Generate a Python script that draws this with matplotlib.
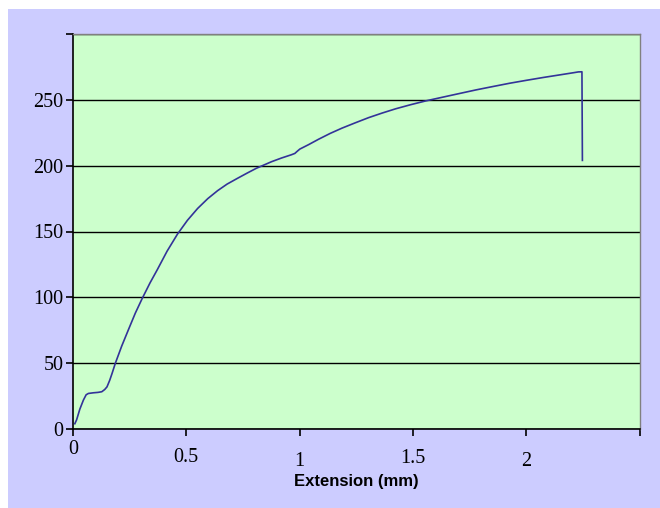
import matplotlib
matplotlib.use("Agg")
import matplotlib.pyplot as plt
from matplotlib.patches import Rectangle

# Data
extension_mm = [0.008, 0.016, 0.03, 0.046, 0.058, 0.068, 0.09, 0.11, 0.127, 0.14, 0.15,
                0.162, 0.172, 0.187, 0.215, 0.246, 0.275, 0.305, 0.34, 0.372, 0.415,
                0.461, 0.505, 0.55, 0.595, 0.638, 0.68, 0.727, 0.77, 0.809, 0.876,
                0.92, 0.964, 0.979, 0.99, 1.001, 1.04, 1.083, 1.135, 1.187, 1.245,
                1.305, 1.365, 1.424, 1.49, 1.557, 1.631, 1.676, 1.78, 1.85, 1.927,
                2.0, 2.076, 2.15, 2.209, 2.23, 2.246, 2.248]
load = [4, 7, 15, 22, 26, 27, 27.5, 27.8, 28.3, 30, 32,
        37, 42, 50, 63, 76, 88, 99, 111, 121, 135,
        148, 158.5, 167.5, 175, 181, 186, 190.5, 194.5, 198, 203,
        205.8, 208.3, 209.3, 211, 212.6, 216, 220, 224.5, 228.5, 232.5,
        236.5, 240, 243.2, 246.3, 249.2, 252, 253.7, 257.6, 260, 262.6,
        264.8, 267, 269, 270.6, 271.2, 271.3, 204]

x_ticks = [0, 0.5, 1, 1.5, 2, 2.5]
x_tick_labels = ["0", "0.5", "1", "1.5", "2", ""]
y_ticks = [0, 50, 100, 150, 200, 250, 300]
y_tick_labels = ["0", "50", "100", "150", "200", "250", ""]
x_label = "Extension (mm)"

fig = plt.figure(figsize=(6.6, 5.08), dpi=100, facecolor="white")
bg = Rectangle((8 / 660, 0), 1 - 8 / 660, (508 - 9) / 508,
               transform=fig.transFigure, facecolor="#ccccff",
               edgecolor="none", zorder=-10)
fig.add_artist(bg)

ax = fig.add_axes([73 / 660, 1 - 429 / 508, (639.5 - 73) / 660, (429 - 34) / 508])
ax.set_zorder(1)
ax.set_facecolor("#ccffcc")

ax.plot(extension_mm, load, color="#333399", linewidth=1.2, zorder=3,
        solid_joinstyle="round")

ax.set_xlim(0, 2.5)
ax.set_ylim(0, 300)
ax.set_xticks(x_ticks)
ax.set_xticklabels(x_tick_labels, fontfamily="Liberation Serif", fontsize=14.5)
ax.set_yticks(y_ticks)
ax.set_yticklabels(y_tick_labels, fontfamily="Liberation Serif", fontsize=14.5)

ax.yaxis.grid(True, color="black", linewidth=1.0)
ax.set_axisbelow(True)

for s in ["left", "bottom"]:
    ax.spines[s].set_color("black")
    ax.spines[s].set_linewidth(1.2)
for s in ["top", "right"]:
    ax.spines[s].set_color("#808080")
    ax.spines[s].set_linewidth(1.0)

ax.tick_params(axis="both", direction="out", length=5, width=1.2, color="black")
ax.tick_params(axis="y", pad=2)

pads = [3, 8.5, 11.5, 9.5, 11.5, 3]
for t, p in zip(ax.xaxis.get_major_ticks(), pads):
    t.set_pad(p)

ax.set_xlabel(x_label, fontfamily="Liberation Sans", fontweight="bold",
              fontsize=12, labelpad=2)

fig.savefig("out.png", dpi=100, facecolor=fig.get_facecolor())
